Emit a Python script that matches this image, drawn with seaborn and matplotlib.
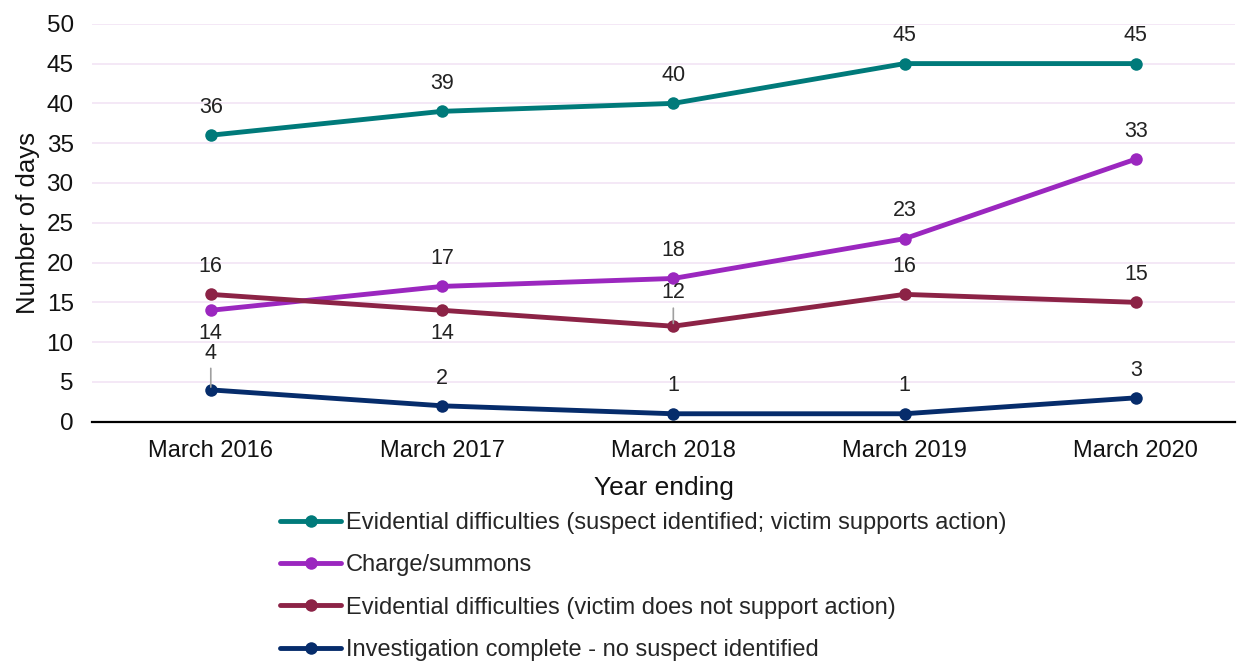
import matplotlib
matplotlib.use("Agg")
import matplotlib.pyplot as plt
import seaborn as sns
import pandas as pd

years = ["March 2016", "March 2017", "March 2018", "March 2019", "March 2020"]
series_names = [
    "Evidential difficulties (suspect identified; victim supports action)",
    "Charge/summons",
    "Evidential difficulties (victim does not support action)",
    "Investigation complete - no suspect identified",
]
evid_supports = [36, 39, 40, 45, 45]
charge_summons = [14, 17, 18, 23, 33]
evid_not_support = [16, 14, 12, 16, 15]
no_suspect = [4, 2, 1, 1, 3]
colors = ["#007A7A", "#9B27BF", "#8C2346", "#062C6B"]

# label placement: (offset in points, leader line?)
label_offsets = [
    [(20, False)] * 5,
    [(-17, False), (20, False), (20, False), (20, False), (20, False)],
    [(20, False), (-17, False), (24, True), (20, False), (20, False)],
    [(26.5, True), (20, False), (20, False), (20, False), (20, False)],
]

values = [evid_supports, charge_summons, evid_not_support, no_suspect]
rows = []
for name, vals in zip(series_names, values):
    for i, (y, v) in enumerate(zip(years, vals)):
        rows.append({"year": y, "idx": i, "value": v, "series": name})
df = pd.DataFrame(rows)

sns.set_style("white")
plt.rcParams["font.family"] = ["Liberation Sans", "DejaVu Sans"]

fig = plt.figure(figsize=(12.39, 6.61), dpi=100)
ax = fig.add_axes([0.074, 0.362, 0.923, 0.602])

sns.lineplot(data=df, x="idx", y="value", hue="series", hue_order=series_names,
             palette=colors, marker="o", markersize=9, linewidth=3.5,
             markeredgewidth=0, ax=ax, legend=True)

for s, (name, vals) in enumerate(zip(series_names, values)):
    for i, v in enumerate(vals):
        off, leader = label_offsets[s][i]
        ax.annotate(str(v), (i, v), xytext=(0, off), textcoords="offset points",
                    ha="center", va="center", fontsize=15.5, color="#222222")
        if leader:
            ax.annotate("", (i, v), xytext=(0, off - 11), textcoords="offset points",
                        arrowprops=dict(arrowstyle="-", color="#A0A0A0", lw=1.2,
                                        shrinkA=0, shrinkB=2))

ax.set_ylim(0, 50)
ax.set_xlim(-0.515, 4.43)
ax.set_yticks(range(0, 51, 5))
ax.set_xticks(range(len(years)))
ax.set_xticklabels(years)
ax.tick_params(axis="both", length=0, colors="#111111")
ax.tick_params(axis="x", pad=13, labelsize=17)
ax.tick_params(axis="y", pad=13, labelsize=17.5)
ax.yaxis.grid(True, color="#F3E6F6", linewidth=1.3)
ax.set_axisbelow(True)
for sp in ["top", "right", "left"]:
    ax.spines[sp].set_visible(False)
ax.spines["bottom"].set_color("#000000")
ax.spines["bottom"].set_linewidth(1.6)
ax.set_xlabel("Year ending", fontsize=19, labelpad=10, color="#111111")
ax.set_ylabel("Number of days", fontsize=18.5, labelpad=5, color="#111111")

handles, labels = ax.get_legend_handles_labels()
ax.legend(handles, labels, loc="upper left", bbox_to_anchor=(280 / 1239, 1 - 512 / 661),
          bbox_transform=fig.transFigure, frameon=False, fontsize=17,
          handlelength=2.6, handletextpad=0.2, labelspacing=0.86, borderaxespad=0,
          borderpad=0)

fig.savefig("out.png", dpi=100)
